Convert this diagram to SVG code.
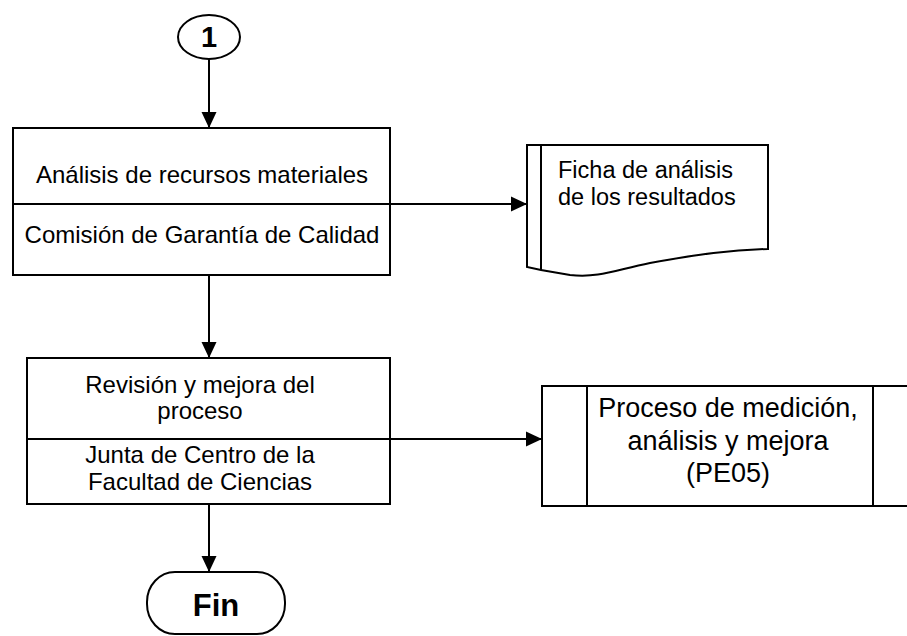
<svg xmlns="http://www.w3.org/2000/svg" width="907" height="636" viewBox="0 0 907 636">
<style>
.s{fill:#fff;stroke:#000;stroke-width:2}
.l{fill:none;stroke:#000;stroke-width:2}
.t{font-family:"Liberation Sans",Arial,sans-serif;font-size:24px;fill:#000}
.m{text-anchor:middle}
.b{font-weight:bold}
.d{font-size:23.5px}
.p{font-size:27px}
.k{font-size:29px}
</style>
<defs>
<marker id="ah" markerUnits="userSpaceOnUse" markerWidth="16" markerHeight="16" viewBox="0 0 16 16" refX="16" refY="8" orient="auto">
<path d="M0,0.5 L16,8 L0,15.5 Z" fill="#000"/>
</marker>
</defs>
<rect width="907" height="636" fill="#fff"/>
<g id="connectors">
<line class="l" x1="209" y1="59" x2="209" y2="128" marker-end="url(#ah)"/>
<line class="l" x1="209" y1="275" x2="209" y2="358" marker-end="url(#ah)"/>
<line class="l" x1="209" y1="504" x2="209" y2="572" marker-end="url(#ah)"/>
<line class="l" x1="390" y1="204" x2="527" y2="204" marker-end="url(#ah)"/>
<line class="l" x1="390" y1="439" x2="542" y2="439" marker-end="url(#ah)"/>
</g>
<g id="start">
<ellipse class="s" cx="209" cy="37" rx="31" ry="22"/>
<text class="t m b k" x="209" y="47">1</text>
</g>
<g id="task1">
<rect class="s" x="13" y="128" width="377" height="147"/>
<line class="l" x1="13" y1="204" x2="390" y2="204"/>
<text class="t m" x="202" y="183">Análisis de recursos materiales</text>
<text class="t m" x="202" y="243">Comisión de Garantía de Calidad</text>
</g>
<g id="doc">
<path class="s" d="M527,145 H768 V249 C730,250 700,254 650,263 C615,270 600,278 570,275 L541,270 L527,267 Z"/>
<line class="l" x1="541" y1="145" x2="541" y2="270"/>
<text class="t d" x="558" y="178">Ficha de análisis</text>
<text class="t d" x="558" y="205">de los resultados</text>
</g>
<g id="task2">
<rect class="s" x="27" y="358" width="363" height="146"/>
<line class="l" x1="27" y1="439" x2="390" y2="439"/>
<text class="t m" x="200" y="393">Revisión y mejora del</text>
<text class="t m" x="200" y="419">proceso</text>
<text class="t m" x="200" y="463">Junta de Centro de la</text>
<text class="t m" x="200" y="490">Facultad de Ciencias</text>
</g>
<g id="process">
<rect class="s" x="542" y="386" width="370" height="120"/>
<line class="l" x1="587" y1="386" x2="587" y2="506"/>
<line class="l" x1="873" y1="386" x2="873" y2="506"/>
<text class="t m p" x="728" y="417">Proceso de medición,</text>
<text class="t m p" x="728" y="450">análisis y mejora</text>
<text class="t m p" x="728" y="482">(PE05)</text>
</g>
<g id="end">
<rect class="s" x="147" y="572" width="138" height="62" rx="28" ry="30"/>
<text class="t m b" x="216" y="616" style="font-size:31px">Fin</text>
</g>
</svg>
